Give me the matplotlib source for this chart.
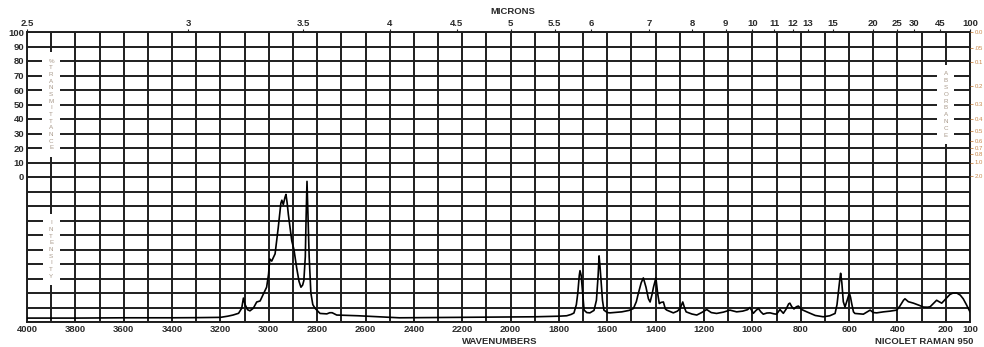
import matplotlib.pyplot as plt
import numpy as np

plt.rcParams['font.family'] = ['Liberation Sans', 'DejaVu Sans']

# Raman spectrum (cm-1, relative intensity 0-100)
wavenumbers = [4000, 3800, 3600, 3400, 3300, 3200, 3170, 3148, 3125, 3112,
               3105, 3098, 3088, 3078, 3064, 3050, 3036, 3022, 3009, 3001,
               2996, 2988, 2974, 2961, 2950, 2946, 2940, 2933, 2929, 2924,
               2919, 2905, 2896, 2885, 2875, 2867, 2860, 2855, 2849, 2846,
               2842, 2838, 2833, 2826, 2818, 2809, 2788, 2760, 2748, 2738,
               2719, 2630, 2460, 2300, 2180, 2000, 1900, 1800, 1768, 1750,
               1738, 1728, 1722, 1716, 1713, 1708, 1702, 1696, 1685, 1672,
               1655, 1645, 1638, 1634, 1630, 1626, 1620, 1614, 1600, 1589,
               1540, 1510, 1492, 1480, 1472, 1460, 1451, 1440, 1430, 1423,
               1415, 1409, 1399, 1392, 1385, 1378, 1368, 1360, 1354, 1327,
               1310, 1299, 1288, 1280, 1274, 1250, 1230, 1210, 1189, 1170,
               1148, 1120, 1093, 1065, 1040, 1020, 1010, 996, 985, 975,
               965, 955, 940, 927, 910, 900, 886, 872, 860, 850,
               845, 837, 828, 818, 810, 795, 775, 740, 707, 680,
               658, 650, 645, 638, 635, 630, 624, 617, 608, 599,
               594, 589, 582, 576, 541, 525, 513, 500, 486, 458,
               430, 403, 390, 375, 369, 355, 334, 310, 293, 275,
               265, 250, 238, 228, 217, 200, 183, 170, 155, 140,
               128, 115, 100]
intensity = [2.7, 2.7, 2.9, 2.9, 3.0, 3.2, 4.0, 4.8, 6.0, 9.5,
             16.5, 12, 8.5, 7.7, 9.5, 13.8, 14.5, 19.5, 24, 33,
             43.5, 42, 47, 65, 82, 84, 81, 86, 88, 82,
             74, 56, 50, 37.6, 28, 24, 25.5, 28.6, 45, 70,
             97, 75, 45, 20, 12, 9.5, 5.9, 5.6, 6.4, 6.4,
             4.8, 4.3, 2.9, 3.1, 3.2, 3.4, 3.6, 4.0, 4.3, 5.2,
             6.2, 12, 20, 32, 35.4, 32, 20, 8.2, 6.5, 6.3,
             8, 15, 32, 45.6, 38, 29, 15, 8.2, 6.5, 6.3,
             7, 8, 9.3, 14, 19.5, 27, 30.4, 24, 16, 13.8,
             19, 24, 30.4, 20, 12.7, 13.5, 13.8, 9, 8.2, 6.3,
             7.5, 9.3, 13.8, 9.5, 7, 5.5, 4.8, 6.5, 8.6, 6.5,
             5.9, 6.8, 8.2, 7.0, 7.5, 8.5, 10, 6.0, 8, 9.3,
             7, 5.4, 6.2, 6.3, 5.6, 5.4, 8.6, 6.0, 9, 12.5,
             13, 10.5, 9.0, 10.5, 11, 8.5, 7.0, 4.5, 3.6, 4.3,
             5.9, 12, 19.5, 30, 33.6, 27, 14, 10.4, 15, 20,
             17, 12.5, 7, 5.9, 5.4, 7, 8.2, 6.5, 6.3, 7.0,
             7.5, 8.2, 11, 15, 16, 14, 13, 11.5, 10.3, 10.2,
             10.5, 13, 15, 14, 13, 16, 19, 20, 20, 18.5,
             16, 12, 7]

x_ticks = [4000, 3800, 3600, 3400, 3200, 3000, 2800, 2600, 2400, 2200, 2000,
           1800, 1600, 1400, 1200, 1000, 800, 600, 400, 200, 100]
micron_ticks = [2.5, 3, 3.5, 4, 4.5, 5, 5.5, 6, 7, 8, 9, 10, 11, 12, 13, 15,
                20, 25, 30, 45, 100]
micron_labels = ['2.5', '3', '3.5', '4', '4.5', '5', '5.5', '6', '7', '8', '9',
                 '10', '11', '12', '13', '15', '20', '25', '30', '45', '100']
transmittance_ticks = [0, 10, 20, 30, 40, 50, 60, 70, 80, 90, 100]
absorbance_ticks = [0.0, 0.05, 0.1, 0.2, 0.3, 0.4, 0.5, 0.6, 0.7, 0.8, 1.0, 2.0]
absorbance_labels = ['0.0', '.05', '0.1', '0.2', '0.3', '0.4', '0.5', '0.6',
                     '0.7', '0.8', '1.0', '2.0']

grid_color = '#1e1e1e'
label_color = '#2a2a2a'
orange = '#c8874a'
side_color = '#a8998a'

fig = plt.figure(figsize=(9.84, 3.47), dpi=100)
left, right = 27 / 984, 970 / 984
top, bottom = 1 - 32 / 347, 1 - 322 / 347

ax = fig.add_axes([left, bottom, right - left, top - bottom])
ax.set_xlim(4000, 100)
ax.set_ylim(-100, 100)
ax.set_xticks(x_ticks)
ax.set_xticklabels([str(t) for t in x_ticks])
ax.set_xticks(np.arange(100, 4001, 100), minor=True)
ax.set_yticks(transmittance_ticks)
ax.set_yticklabels([str(t) for t in transmittance_ticks])
ax.set_yticks(np.arange(-100, 101, 10), minor=True)
ax.grid(True, which='both', color=grid_color, lw=1.4)
ax.tick_params(axis='x', which='both', length=0, labelsize=6.8,
               labelcolor=label_color, pad=2)
ax.tick_params(axis='y', which='major', length=1, labelsize=6.8,
               labelcolor=label_color, pad=1, color=grid_color)
ax.tick_params(axis='y', which='minor', length=0)
for lab in ax.get_xticklabels() + ax.get_yticklabels():
    lab.set_fontweight('bold')
for sp in ax.spines.values():
    sp.set_color(grid_color)
    sp.set_linewidth(1.4)

# microns along the top
ax_top = ax.twiny()
ax_top.set_xlim(4000, 100)
ax_top.set_xticks([1e4 / m for m in micron_ticks])
ax_top.set_xticklabels(micron_labels)
ax_top.tick_params(axis='x', length=2.5, width=0.8, labelsize=6.8,
                   labelcolor=label_color, color=grid_color, pad=0.5)
for lab in ax_top.get_xticklabels():
    lab.set_fontweight('bold')
for sp in ax_top.spines.values():
    sp.set_visible(False)

# absorbance on the right
ax_r = ax.twinx()
ax_r.set_ylim(-100, 100)
ax_r.set_yticks([100 * 10 ** (-a) for a in absorbance_ticks])
ax_r.set_yticklabels(absorbance_labels)
ax_r.tick_params(axis='y', length=2.5, width=0.6, labelsize=4.3,
                 colors=orange, pad=1)
for sp in ax_r.spines.values():
    sp.set_visible(False)

box = dict(boxstyle='square,pad=1.0', fc='white', ec='none')
ax.text(3900, 50, '\n'.join('%TRANSMITTANCE'), ha='center', va='center',
        fontsize=4.5, color=side_color, linespacing=1.42, bbox=box, zorder=5)
ax.text(3900, -50, '\n'.join('INTENSITY'), ha='center', va='center',
        fontsize=4.5, color=side_color, linespacing=1.42, bbox=box, zorder=5)
ax.text(200, 50, '\n'.join('ABSORBANCE'), ha='center', va='center',
        fontsize=4.5, color=side_color, linespacing=1.45, bbox=box, zorder=5)

# spectrum in the lower panel
ax_i = fig.add_axes([left, bottom, right - left, (top - bottom) / 2])
ax_i.set_xlim(4000, 100)
ax_i.set_ylim(0, 100)
ax_i.plot(wavenumbers, intensity, color='black', lw=1.2)
ax_i.axis('off')

fig.text(513 / 984, 1 - 12 / 347, 'MICRONS', ha='center', va='center',
         fontsize=6.8, fontweight='bold', color=label_color)
fig.text(500 / 984, 1 - 341 / 347, 'WAVENUMBERS', ha='center', va='center',
         fontsize=6.8, fontweight='bold', color=label_color)
fig.text(973 / 984, 1 - 341 / 347, 'NICOLET RAMAN 950', ha='right',
         va='center', fontsize=6.8, fontweight='bold', color=label_color)

fig.savefig('out.png', dpi=100)
